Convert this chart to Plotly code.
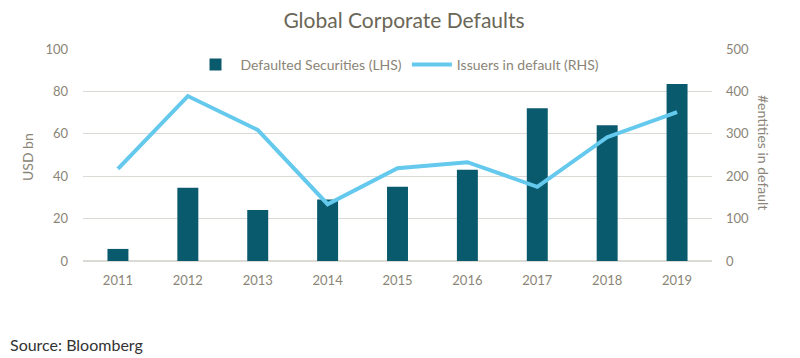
import plotly.graph_objects as go

years = ["2011", "2012", "2013", "2014", "2015", "2016", "2017", "2018", "2019"]
defaulted_securities = [5.7, 34.5, 24, 29, 35, 43, 72, 64, 83.5]
issuers_in_default = [217, 389, 309, 134, 219, 233, 175, 292, 351]

txt = "#8a8577"
font = "Lato, 'Open Sans', sans-serif"

# page body has an 8px margin: figure coordinates are window - 8
OFF = 8
W, H = 800 - OFF, 358 - OFF
L, R, T, B = 83 - OFF, 800 - 712, 49 - OFF, 97

fig = go.Figure()
fig.add_trace(go.Bar(x=years, y=defaulted_securities, name="Defaulted Securities (LHS)",
                     marker=dict(color="#0a5a6e", line=dict(width=0)), width=0.3, yaxis="y"))
fig.add_trace(go.Scatter(x=years, y=issuers_in_default, name="Issuers in default (RHS)",
                         mode="lines", line=dict(color="#64c9ed", width=4), yaxis="y2"))

fig.update_layout(
    width=W, height=H,
    margin=dict(l=L, r=R, t=T, b=B),
    paper_bgcolor="white", plot_bgcolor="white",
    font=dict(family=font, color=txt, size=13),
    title=dict(text="Global Corporate Defaults", x=0.5, xanchor="center", y=1 - (21 - OFF) / H, yanchor="middle",
               font=dict(size=21, color="#6b6757", family=font)),
    showlegend=True,
    legend=dict(orientation="h", x=0.5, xanchor="center", y=1.0, yanchor="top",
                font=dict(size=14, color=txt), bgcolor="rgba(0,0,0,0)", traceorder="normal",
                itemwidth=40),
    xaxis=dict(showgrid=False, ticks="", tickfont=dict(size=13, color=txt), showline=False,
               ticklabelstandoff=10, automargin=False),
    yaxis=dict(range=[0, 100], dtick=20, showgrid=True, gridcolor="#dcdad4", gridwidth=1,
               zeroline=True, zerolinecolor="#dcdad4", zerolinewidth=1.5,
               tickfont=dict(size=13, color=txt), ticklabelstandoff=14, automargin=False),
    yaxis2=dict(range=[0, 500], dtick=100, overlaying="y", side="right", showgrid=False,
                zeroline=False, tickfont=dict(size=13, color=txt), ticklabelstandoff=13,
                automargin=False),
    bargap=0.7,
    annotations=[
        dict(text="USD bn", x=27, y=157, showarrow=False, textangle=-90,
             xanchor="center", yanchor="middle", font=dict(size=14, color=txt)),
        dict(text="#entities in default", x=764, y=152, showarrow=False, textangle=90,
             xanchor="center", yanchor="middle", font=dict(size=14, color=txt)),
        dict(text="Source: Bloomberg", x=8, y=344, showarrow=False, xanchor="left",
             yanchor="middle", font=dict(size=16, color="#333333")),
    ],
)
# convert window-pixel annotation positions to paper coords
pw, ph = W - L - R, H - T - B
for a in fig.layout.annotations:
    px, py = a.x - OFF, a.y - OFF
    a.xref = "paper"; a.yref = "paper"
    a.x = (px - L) / pw
    a.y = (H - B - py) / ph
fig.write_html("out.html")
